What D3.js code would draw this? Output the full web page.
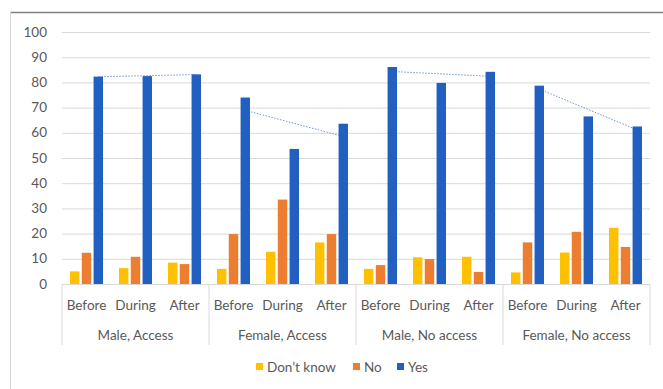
<!DOCTYPE html>
<html>
<head>
<script src="https://d3js.org/d3.v7.min.js"></script>
<style>
  body { margin: 0; background: #fff; }
  text { font-family: Lato, "Open Sans", sans-serif; fill: #595959; }
  .gridlines line { stroke: #d9d9d9; }
  .gridlines .domain { stroke: none; }
</style>
</head>
<body>
<svg id="chart" width="663" height="389"></svg>
<script>
// data
const groups = ["Male, Access", "Female, Access", "Male, No access", "Female, No access"];
const periods = ["Before", "During", "After"];
const seriesNames = ["Don\u2019t know", "No", "Yes"];
const dontKnow = [5, 6.3, 8.5,   6, 12.8, 16.5,   6, 10.6, 10.8,   4.6, 12.5, 22.3];
const no       = [12.4, 10.8, 7.9,   19.8, 33.5, 19.8,   7.5, 9.9, 4.8,   16.5, 20.7, 14.7];
const yes      = [82.3, 82.5, 83.2,   74, 53.6, 63.6,   86.1, 79.8, 84.2,   78.7, 66.5, 62.5];
const yTicks = [0, 10, 20, 30, 40, 50, 60, 70, 80, 90, 100];
const colors = ["#FFC000", "#ED7D31", "#2160C0"];

let svg = d3.select("svg#chart");
const plotLeft = 62, plotRight = 650, plotTop = 32, plotBottom = 284;

// chart frame
svg.append("line").attr("x1", 10).attr("x2", 663).attr("y1", 12.5).attr("y2", 12.5)
   .attr("stroke", "#7f7f7f").attr("stroke-width", 1.5);
svg.append("line").attr("x1", 10.5).attr("x2", 10.5).attr("y1", 12).attr("y2", 389)
   .attr("stroke", "#d9d9d9");

let cats = [];
groups.forEach(g => periods.forEach(p => cats.push(g + "|" + p)));

const xScale = d3.scaleBand().domain(cats).range([plotLeft, plotRight]);
const inner = d3.scaleBand().domain(seriesNames).range([-16.5, 16.5]).paddingInner(0.2);
const yScale = d3.scaleLinear().domain([0, 100]).range([plotBottom, plotTop]);

// gridlines
let grid = svg.append("g").attr("class", "gridlines")
  .attr("transform", `translate(${plotLeft},0)`)
  .call(d3.axisLeft(yScale).tickValues(yTicks).tickSize(-(plotRight - plotLeft)).tickFormat(""));
grid.selectAll("line").attr("stroke-width", 1);

// y labels
svg.append("g").selectAll("text").data(yTicks).join("text")
  .attr("x", 47).attr("y", d => yScale(d) + 4.5)
  .attr("text-anchor", "end").style("font-size", "13.5px")
  .text(d => d);

// trendlines (linear fit of Yes in each group), drawn behind bars
groups.forEach((g, gi) => {
  const vals = yes.slice(gi * 3, gi * 3 + 3);
  const mx = 1, my = d3.mean(vals);
  let sxy = 0, sxx = 0;
  vals.forEach((v, i) => { sxy += (i - mx) * (v - my); sxx += (i - mx) * (i - mx); });
  const slope = sxy / sxx;
  const xa = xScale(g + "|Before") + xScale.bandwidth() / 2 + inner("Yes") + inner.bandwidth() / 2;
  const xb = xScale(g + "|After") + xScale.bandwidth() / 2 + inner("Yes") + inner.bandwidth() / 2;
  svg.append("line")
    .attr("x1", xa).attr("x2", xb)
    .attr("y1", yScale(my - slope)).attr("y2", yScale(my + slope))
    .attr("stroke", "#6f97da").attr("stroke-width", 1)
    .attr("stroke-dasharray", "1.5,1.5");
});

// bars
const allSeries = [dontKnow, no, yes];
allSeries.forEach((vals, si) => {
  svg.append("g").selectAll("rect").data(vals).join("rect")
    .attr("x", (d, i) => xScale(cats[i]) + xScale.bandwidth() / 2 + inner(seriesNames[si]))
    .attr("width", inner.bandwidth())
    .attr("y", d => yScale(d))
    .attr("height", d => yScale(0) - yScale(d))
    .attr("fill", colors[si]);
});

// category axis
svg.append("line").attr("x1", plotLeft).attr("x2", plotRight)
   .attr("y1", plotBottom + 0.5).attr("y2", plotBottom + 0.5)
   .attr("stroke", "#d9d9d9");
const gw = (plotRight - plotLeft) / groups.length;
d3.range(groups.length + 1).forEach(i => {
  svg.append("line").attr("x1", plotLeft + i * gw).attr("x2", plotLeft + i * gw)
    .attr("y1", plotBottom).attr("y2", 345).attr("stroke", "#d9d9d9");
});
svg.append("g").selectAll("text").data(cats).join("text")
  .attr("x", d => xScale(d) + xScale.bandwidth() / 2)
  .attr("y", 310).attr("text-anchor", "middle").style("font-size", "13.5px")
  .text(d => d.split("|")[1]);
svg.append("g").selectAll("text").data(groups).join("text")
  .attr("x", (d, i) => plotLeft + (i + 0.5) * gw)
  .attr("y", 340).attr("text-anchor", "middle").style("font-size", "13.5px")
  .text(d => d);

// legend
const legendX = [256, 353, 397];
seriesNames.forEach((s, i) => {
  svg.append("rect").attr("x", legendX[i]).attr("y", 363).attr("width", 7).attr("height", 7)
    .attr("fill", colors[i]);
  svg.append("text").attr("x", legendX[i] + 11).attr("y", 371.5)
    .style("font-size", "13.5px").text(s);
});
</script>
</body>
</html>
